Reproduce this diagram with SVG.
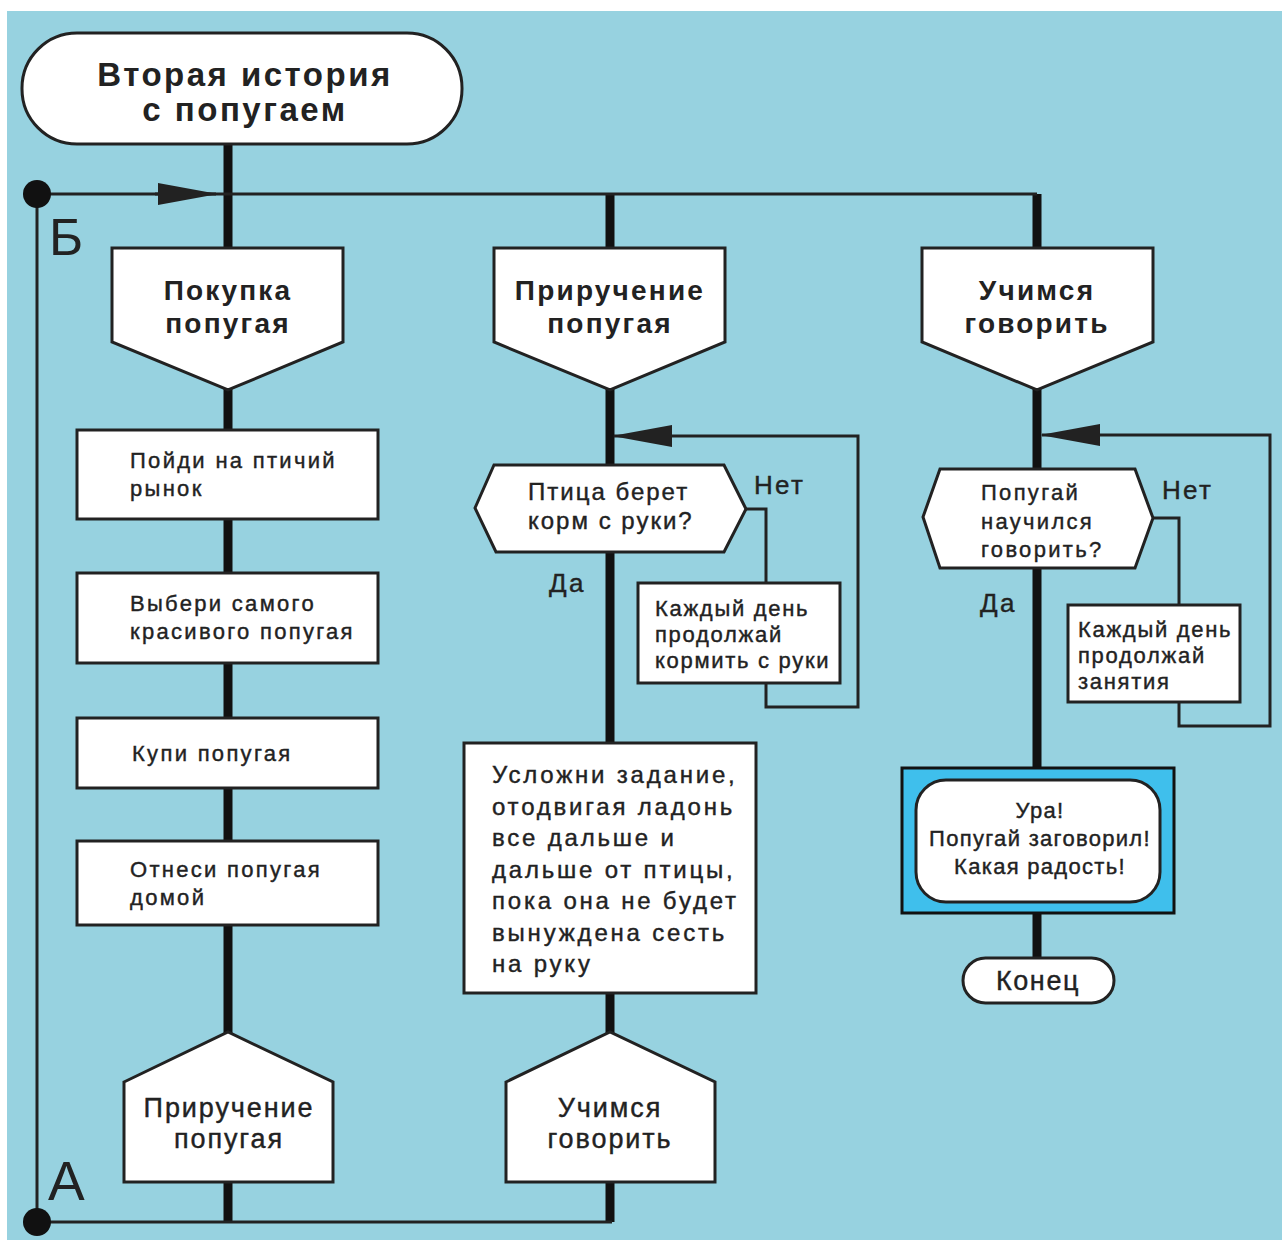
<svg xmlns="http://www.w3.org/2000/svg" width="1282" height="1240" viewBox="0 0 1282 1240">
<defs>
<style>
.bg{fill:#97d2e0}
.box{fill:#fff;stroke:#222;stroke-width:3}
.thick{stroke:#111;stroke-width:9;fill:none}
.thin{stroke:#222;stroke-width:3;fill:none}
.t{font-family:"Liberation Sans",Arial,sans-serif;fill:#222;stroke:#222;stroke-width:0.4;letter-spacing:2.3px}
.b{font-family:"Liberation Sans",Arial,sans-serif;fill:#222;font-weight:bold;letter-spacing:2.2px}
.s22{font-size:22px}
.s24{font-size:24px}
.s26{font-size:26px}
.mid{text-anchor:middle}
</style>
<marker id="arr" viewBox="0 0 60 22" refX="58" refY="11" markerWidth="60" markerHeight="22" markerUnits="userSpaceOnUse" orient="auto">
<path d="M0,0 L60,11 L0,22 Z" fill="#222"/>
</marker>
</defs>
<rect x="0" y="0" width="1282" height="1240" fill="#fff"/>
<rect class="bg" x="7" y="11" width="1275" height="1229"/>

<g id="connectors">
<path class="thick" d="M228,144 V1222"/>
<path class="thick" d="M610,194 V250"/>
<path class="thick" d="M1037,194 V250"/>
<path class="thick" d="M610,388 V744"/>
<path class="thick" d="M610,993 V1034"/>
<path class="thick" d="M610,1180 V1222"/>
<path class="thick" d="M1037,388 V768"/>
<path class="thick" d="M1037,914 V958"/>
<path class="thin" d="M37,194 H1037"/>
<path class="thin" d="M155,194 H216" marker-end="url(#arr)"/>
<path class="thin" d="M37,194 V1222 H612"/>
<path class="thin" d="M746,509 H766 V583"/>
<path class="thin" d="M766,683 V707 H858 V436 H614" marker-end="url(#arr)"/>
<path class="thin" d="M1153,518 H1179 V605"/>
<path class="thin" d="M1179,702 V726 H1270 V435 H1042" marker-end="url(#arr)"/>
<circle cx="37" cy="194" r="14" fill="#111"/>
<circle cx="37" cy="1222" r="14" fill="#111"/>
<text class="t" x="49" y="255" style="font-size:52px;stroke-width:0;letter-spacing:0">Б</text>
<text class="t" x="48" y="1200" style="font-size:55px;stroke-width:0;letter-spacing:0">А</text>
<text class="t s26" x="754" y="494">Нет</text>
<text class="t s26" x="549" y="592">Да</text>
<text class="t s26" x="1162" y="499">Нет</text>
<text class="t s26" x="980" y="612">Да</text>
</g>

<g id="start">
<rect class="box" x="22" y="33" width="440" height="111" rx="55"/>
<text class="b mid" x="245" y="86" style="font-size:33px;letter-spacing:2.5px">Вторая история</text>
<text class="b mid" x="245" y="121" style="font-size:33px;letter-spacing:2.5px">с попугаем</text>
</g>

<g id="col1-head">
<path class="box" d="M112,248 H343 V342 L228,390 L112,342 Z"/>
<text class="b mid" x="228" y="300" font-size="28">Покупка</text>
<text class="b mid" x="228" y="333" font-size="28">попугая</text>
</g>
<g id="col2-head">
<path class="box" d="M494,248 H725 V342 L610,390 L494,342 Z"/>
<text class="b mid" x="610" y="300" font-size="28">Приручение</text>
<text class="b mid" x="610" y="333" font-size="28">попугая</text>
</g>
<g id="col3-head">
<path class="box" d="M922,248 H1153 V342 L1037,390 L922,342 Z"/>
<text class="b mid" x="1037" y="300" font-size="28">Учимся</text>
<text class="b mid" x="1037" y="333" font-size="28">говорить</text>
</g>

<g id="step1">
<rect class="box" x="77" y="430" width="301" height="89"/>
<text class="t s22" x="130" y="468">Пойди на птичий</text>
<text class="t s22" x="130" y="496">рынок</text>
</g>
<g id="step2">
<rect class="box" x="77" y="573" width="301" height="90"/>
<text class="t s22" x="130" y="611">Выбери самого</text>
<text class="t s22" x="130" y="639">красивого попугая</text>
</g>
<g id="step3">
<rect class="box" x="77" y="718" width="301" height="70"/>
<text class="t s22" x="132" y="761">Купи попугая</text>
</g>
<g id="step4">
<rect class="box" x="77" y="841" width="301" height="84"/>
<text class="t s22" x="130" y="877">Отнеси попугая</text>
<text class="t s22" x="130" y="905">домой</text>
</g>
<g id="goto-taming">
<path class="box" d="M124,1082 L228,1032 L333,1082 V1182 H124 Z"/>
<text class="t mid" x="229" y="1117" style="font-size:27px;letter-spacing:1.9px">Приручение</text>
<text class="t mid" x="229" y="1148" style="font-size:27px;letter-spacing:1.9px">попугая</text>
</g>

<g id="decision1">
<path class="box" d="M475,508 L494,465 H724 L746,509 L724,552 H496 Z"/>
<text class="t s24" x="528" y="500" style="letter-spacing:2px">Птица берет</text>
<text class="t s24" x="528" y="529" style="letter-spacing:2px">корм с руки?</text>
</g>
<g id="feed-daily">
<rect class="box" x="638" y="583" width="202" height="100"/>
<text class="t s22" x="655" y="616" style="letter-spacing:1.7px">Каждый день</text>
<text class="t s22" x="655" y="642" style="letter-spacing:1.7px">продолжай</text>
<text class="t s22" x="655" y="668" style="letter-spacing:1.7px">кормить с руки</text>
</g>
<g id="harder">
<rect class="box" x="464" y="743" width="292" height="250"/>
<text class="t s24" x="492" y="783" style="letter-spacing:2.8px">Усложни задание,</text>
<text class="t s24" x="492" y="815" style="letter-spacing:2.8px">отодвигая ладонь</text>
<text class="t s24" x="492" y="846" style="letter-spacing:2.8px">все дальше и</text>
<text class="t s24" x="492" y="878" style="letter-spacing:2.8px">дальше от птицы,</text>
<text class="t s24" x="492" y="909" style="letter-spacing:2.8px">пока она не будет</text>
<text class="t s24" x="492" y="941" style="letter-spacing:2.8px">вынуждена сесть</text>
<text class="t s24" x="492" y="972" style="letter-spacing:2.8px">на руку</text>
</g>
<g id="goto-talk">
<path class="box" d="M506,1082 L610,1032 L715,1082 V1182 H506 Z"/>
<text class="t mid" x="610" y="1117" style="font-size:27px;letter-spacing:1.9px">Учимся</text>
<text class="t mid" x="610" y="1148" style="font-size:27px;letter-spacing:1.9px">говорить</text>
</g>

<g id="decision2">
<path class="box" d="M923,517 L940,469 H1135 L1153,518 L1135,568 H940 Z"/>
<text class="t s22" x="981" y="500">Попугай</text>
<text class="t s22" x="981" y="529">научился</text>
<text class="t s22" x="981" y="557">говорить?</text>
</g>
<g id="practice-daily">
<rect class="box" x="1068" y="605" width="172" height="97"/>
<text class="t s22" x="1078" y="637" style="letter-spacing:1.7px">Каждый день</text>
<text class="t s22" x="1078" y="663" style="letter-spacing:1.7px">продолжай</text>
<text class="t s22" x="1078" y="689" style="letter-spacing:1.7px">занятия</text>
</g>
<g id="hooray">
<rect x="902" y="768" width="272" height="145" fill="#3fbfec" stroke="#111" stroke-width="3"/>
<rect class="box" x="916" y="780" width="244" height="122" rx="30"/>
<text class="t s22 mid" x="1040" y="818" style="letter-spacing:1.3px">Ура!</text>
<text class="t s22 mid" x="1040" y="846" style="letter-spacing:1.3px">Попугай заговорил!</text>
<text class="t s22 mid" x="1040" y="874" style="letter-spacing:1.3px">Какая радость!</text>
</g>
<g id="end">
<rect class="box" x="963" y="958" width="151" height="45" rx="22.5"/>
<text class="t mid" x="1038" y="990" style="font-size:27px;letter-spacing:1.6px">Конец</text>
</g>
</svg>
